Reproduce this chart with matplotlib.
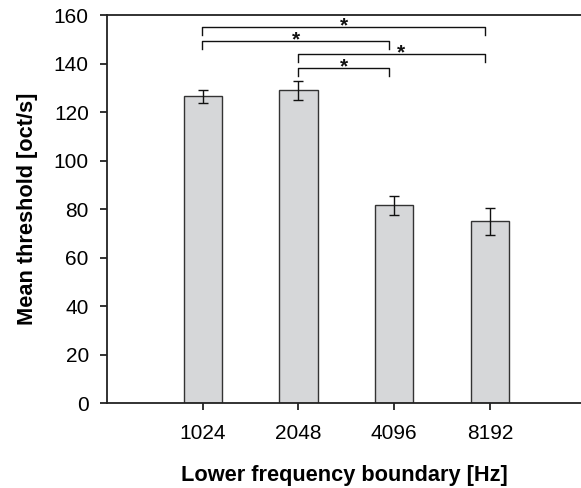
import matplotlib
matplotlib.use("Agg")
import matplotlib.pyplot as plt

categories = ["1024", "2048", "4096", "8192"]
means = [126.5, 129.0, 81.6, 74.9]
errors = [2.7, 4.0, 3.9, 5.5]
yticks = [0, 20, 40, 60, 80, 100, 120, 140, 160]

# significance brackets: (left index, right index, height)
brackets = [(0, 3, 155.2), (0, 2, 149.4), (1, 3, 143.9), (1, 2, 138.0)]

plt.rcParams['font.family'] = ['Liberation Sans', 'DejaVu Sans']

fig = plt.figure(figsize=(5.81, 4.88), dpi=100)
ax = fig.add_axes([0.184, 0.174, 0.816, 0.795])

x = list(range(len(categories)))
ax.bar(x, means, width=0.40, color="#d6d7d9", edgecolor="#333333", linewidth=1.0, zorder=2)
ax.errorbar(x, means, yerr=errors, fmt="none", ecolor="#111111", elinewidth=1.0,
            capsize=3.6, capthick=1.0, zorder=3)

drop = 3.3
for i, (a, b, h) in enumerate(brackets):
    xa, xb = x[a] - 0.005, x[b] - 0.05
    ax.plot([xa, xa, xb, xb], [h - drop, h, h, h - drop], color="#111111", lw=1.0,
            clip_on=False, zorder=3)
    xm = (xa + xb) / 2
    dy = -1.8
    if i == 2:
        xm += 0.1
    ax.text(xm, h + dy, "*", ha="center", va="baseline", fontsize=15,
            fontweight="bold", color="#111111")

ax.set_xlim(-1.0, 3.95)
ax.set_ylim(0, 160)
ax.set_yticks(yticks)
ax.set_xticks(x)
ax.set_xticklabels(categories)

for s in ["left", "bottom", "top"]:
    ax.spines[s].set_linewidth(1.3)
    ax.spines[s].set_color("#222222")
ax.spines["right"].set_visible(False)

ax.tick_params(axis="both", direction="out", length=5, width=1.3, color="#222222",
               labelsize=15, pad=8)
ax.tick_params(axis="x", pad=10)

ax.set_ylabel("Mean threshold [oct/s]", fontsize=15.7, fontweight="bold", labelpad=11)
ax.set_xlabel("Lower frequency boundary [Hz]", fontsize=15.7, fontweight="bold", labelpad=16)

fig.savefig("out.png", dpi=100)
